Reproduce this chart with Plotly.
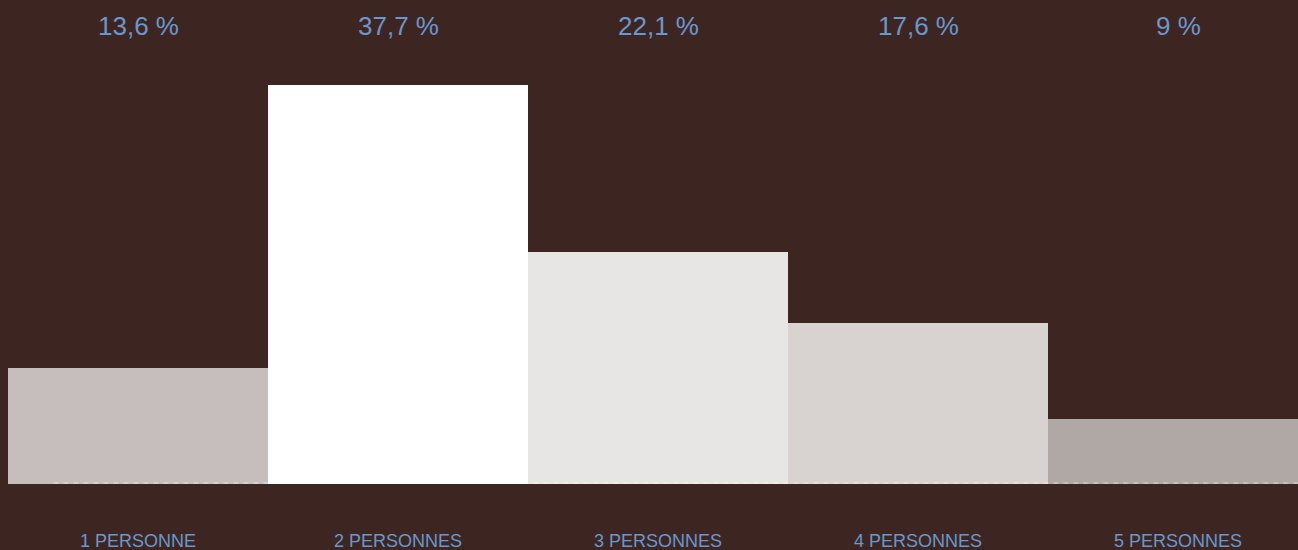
import plotly.graph_objects as go

categories = ["1 PERSONNE", "2 PERSONNES", "3 PERSONNES", "4 PERSONNES", "5 PERSONNES"]
value_labels = ["13,6 %", "37,7 %", "22,1 %", "17,6 %", "9 %"]
bar_heights = [10.96, 37.7, 21.93, 15.22, 6.14]
bar_colors = ["#c6bebc", "#ffffff", "#e8e6e4", "#d8d2d1", "#b0a8a5"]

BG = "#3d2622"
BLUE = "#6a97cc"

fig = go.Figure(go.Bar(
    x=categories, y=bar_heights,
    marker=dict(color=bar_colors, line=dict(width=0)),
    hoverinfo="skip",
))

for cat, lab in zip(categories, value_labels):
    fig.add_annotation(x=cat, xref="x", y=1, yref="paper", yshift=59,
                       text=lab, showarrow=False, yanchor="middle",
                       font=dict(family="Liberation Sans, Arial", size=26, color=BLUE))
    fig.add_annotation(x=cat, xref="x", y=0, yref="paper", yshift=-57,
                       text=cat, showarrow=False, yanchor="middle",
                       font=dict(family="Liberation Sans, Arial", size=18, color=BLUE))

fig.add_shape(type="line", xref="paper", yref="y", x0=0.0349, x1=1, y0=0.09, y1=0.09,
              line=dict(color="rgba(255,255,255,0.55)", width=1, dash="5px,5px"), layer="above")

fig.update_layout(
    width=1308, height=550,
    margin=dict(l=8, r=0, t=85, b=66),
    paper_bgcolor=BG, plot_bgcolor=BG,
    bargap=0, showlegend=False,
    xaxis=dict(showticklabels=False, showgrid=False, zeroline=False, showline=False, fixedrange=True),
    yaxis=dict(range=[0, 37.7], showticklabels=False, showgrid=False, zeroline=False, showline=False, fixedrange=True),
)

fig.write_html("out.html", config={"displayModeBar": False},
               post_script="document.body.style.margin='0';document.body.style.background='#3d2622';document.body.style.overflow='hidden';")
